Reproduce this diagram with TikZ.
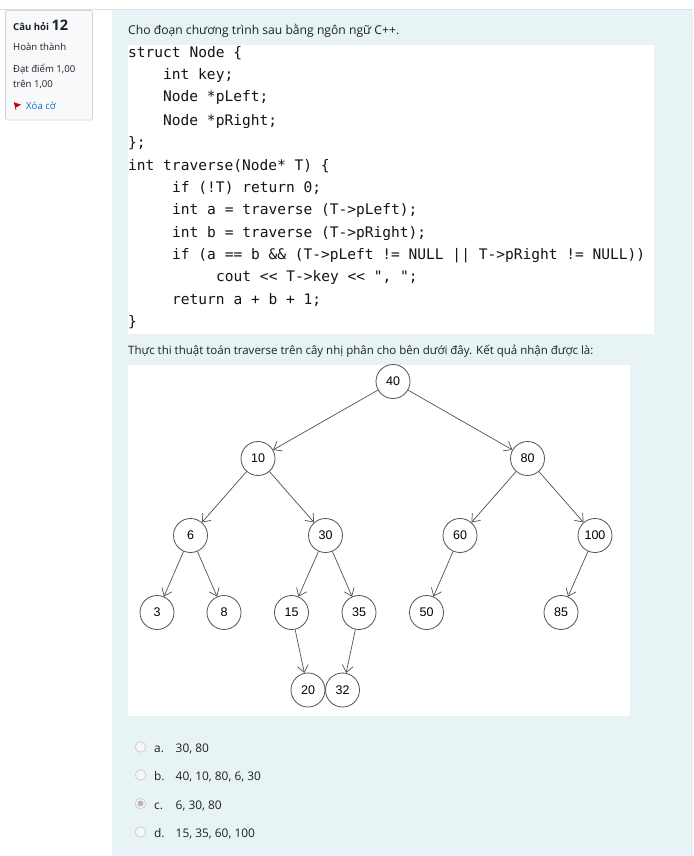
\documentclass[tikz,border=0pt]{standalone}
\usepackage{fontspec}
\setmainfont{Open Sans}
\newfontfamily\codefont{DejaVu Sans Mono}
\newfontfamily\treefont{Liberation Sans}
\usetikzlibrary{arrows.meta}
\definecolor{panel}{HTML}{E7F3F5}
\definecolor{side}{HTML}{F8F9FA}
\definecolor{sideline}{HTML}{CED4DA}
\definecolor{ink}{HTML}{1D2125}
\definecolor{linkc}{HTML}{0F6CBF}
\tikzset{
  txt/.style={anchor=base west,inner sep=0pt,text=ink,font=\fontsize{11.9}{14}\selectfont},
  small/.style={txt,font=\fontsize{9.6}{12}\selectfont},
  code/.style={anchor=base west,inner sep=0pt,text=black!92,font=\codefont\fontsize{14.55}{17}\selectfont},
  tn/.style={circle,draw=black!68,fill=white,line width=0.8pt,minimum size=34pt,inner sep=0pt,font=\treefont\fontsize{12.5}{14}\selectfont},
  ed/.style={draw=black!68,line width=0.7pt,-{Straight Barb[length=7pt,width=11pt]}},
  radio/.style={circle,draw=black!18,fill=black!3,line width=0.8pt,minimum size=10.5pt,inner sep=0pt}
}
\begin{document}
\begin{tikzpicture}[x=1pt,y=-1pt]
\useasboundingbox (0,0) rectangle (693,856);
\fill[white] (0,0) rectangle (693,856);
\draw[black!12,line width=0.8pt] (0,9.5) -- (693,9.5);
% panels
\fill[panel,rounded corners=3pt] (112,10) rectangle (693,40);
\fill[panel] (112,20) rectangle (693,856);
\filldraw[fill=side,draw=sideline,line width=0.7pt,rounded corners=1.5pt] (5.5,10.5) rectangle (92.5,120);
\fill[white] (128,45) rectangle (654,334);
\fill[white] (128,365) rectangle (630,716);
% sidebar
\node[small,font=\bfseries\fontsize{9.6}{12}\selectfont] (qlabel) at (13,30.5) {Câu hỏi \fontsize{14.5}{16}\selectfont 12};
\node[small] (state) at (13,50.5) {Hoàn thành};
\node[small] (grade1) at (13,72.5) {Đạt điểm 1,00};
\node[small] (grade2) at (13,87.5) {trên 1,00};
\fill[red!75!black] (14,102.5) -- (21,104.5) -- (18,106.5) -- (15.5,107.5) -- cycle;
\draw[red!75!black,line width=0.7pt] (14.5,102.5) -- (16,110);
\node[small,text=linkc] (flag) at (26,109.5) {Xóa cờ};
% texts
\node[txt,font=\fontsize{12.15}{14}\selectfont] (intro) at (128,34.5) {Cho đoạn chương trình sau bằng ngôn ngữ C++.};
\node[txt,font=\fontsize{11.5}{14}\selectfont] (ask) at (128,354) {Thực thi thuật toán traverse trên cây nhị phân cho bên dưới đây. Kết quả nhận được là:};
% code
\node[code] (c1) at (128,58) {struct Node \{};
\node[code] (c2) at (163,80) {int key;};
\node[code] (c3) at (163,102) {Node *pLeft;};
\node[code] (c4) at (163,125) {Node *pRight;};
\node[code] (c5) at (128,147) {\};};
\node[code] (c6) at (128,170) {int traverse(Node* T) \{};
\node[code] (c7) at (172,192) {if (!T) return 0;};
\node[code] (c8) at (172,214) {int a = traverse (T->pLeft);};
\node[code] (c9) at (172,237) {int b = traverse (T->pRight);};
\node[code] (c10) at (172,259) {if (a == b \&\& (T->pLeft != NULL || T->pRight != NULL))};
\node[code] (c11) at (216,281) {cout << T->key << ", ";};
\node[code] (c12) at (172,304) {return a + b + 1;};
\node[code] (c13) at (128,326) {\}};
% tree
\node[tn] (n40) at (393,381.5) {40};
\node[tn] (n10) at (258,458.5) {10};
\node[tn] (n80) at (527.5,458.5) {80};
\node[tn] (n6) at (190.5,535.5) {6};
\node[tn] (n30) at (325.5,535.5) {30};
\node[tn] (n60) at (460,535.5) {60};
\node[tn] (n100) at (595,535.5) {100};
\node[tn] (n3) at (157,612.5) {3};
\node[tn] (n8) at (224,612.5) {8};
\node[tn] (n15) at (291.5,612.5) {15};
\node[tn] (n35) at (359,612.5) {35};
\node[tn] (n50) at (426.5,612.5) {50};
\node[tn] (n85) at (561,612.5) {85};
\node[tn] (n20) at (308,690) {20};
\node[tn] (n32) at (342.5,690) {32};
\foreach \a/\b in {n40/n10,n40/n80,n10/n6,n10/n30,n80/n60,n80/n100,n6/n3,n6/n8,n30/n15,n30/n35,n60/n50,n100/n85,n15/n20,n35/n32}
  \draw[ed] (\a) -- (\b);
% answers
\node[radio] (ra) at (140.5,747) {};
\node[radio] (rb) at (140.5,775) {};
\node[radio] (rc) at (140.5,803.5) {};
\node[circle,fill=black!28,minimum size=6pt,inner sep=0pt] (rcdot) at (rc) {};
\node[radio] (rd) at (140.5,832) {};
\node[txt] (la) at (154,752) {a.};
\node[txt] (ta) at (175.5,752) {30, 80};
\node[txt] (lb) at (154,780) {b.};
\node[txt] (tb) at (175.5,780) {40, 10, 80, 6, 30};
\node[txt] (lc) at (154,809) {c.};
\node[txt] (tc) at (175.5,809) {6, 30, 80};
\node[txt] (ld) at (154,837) {d.};
\node[txt] (td) at (175.5,837) {15, 35, 60, 100};
\end{tikzpicture}
\end{document}
